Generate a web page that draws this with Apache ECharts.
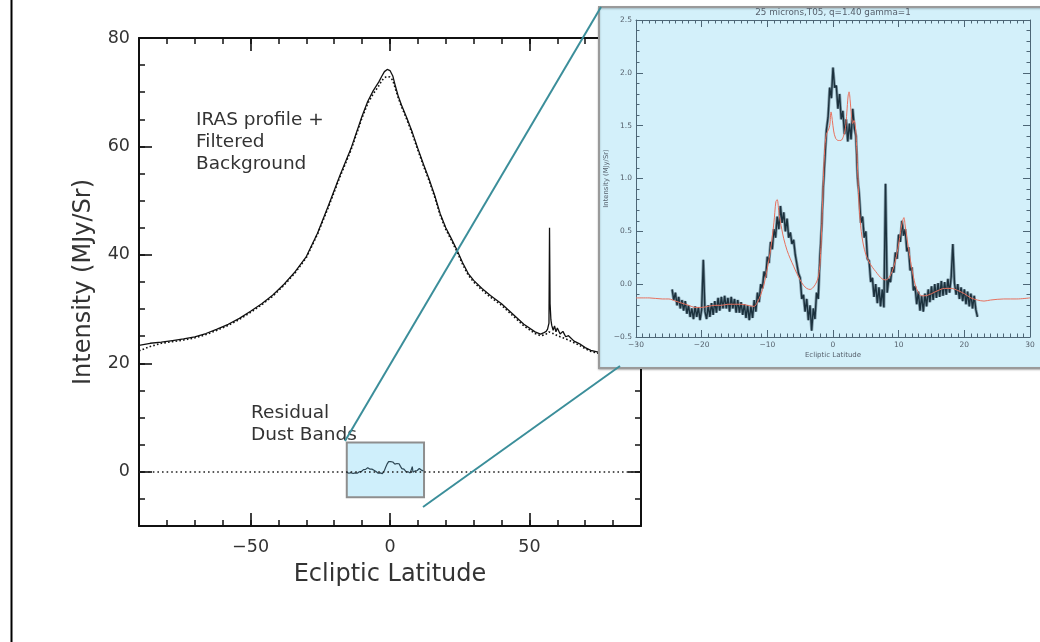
<!DOCTYPE html>
<html>
<head>
<meta charset="utf-8">
<title>IRAS 25 micron ecliptic latitude profile and residual dust bands</title>
<script src="https://cdn.jsdelivr.net/npm/echarts@6/dist/echarts.min.js"></script>
<style>
  html, body { margin: 0; padding: 0; background: #ffffff; }
  #chart { width: 1040px; height: 642px; }
</style>
</head>
<body>
<div id="chart"></div>
<script>
// ---------------- Full IRAS scan (MJy/Sr) ----------------
const profileLat = [-90, -86, -82, -78, -74, -70, -66, -62, -58, -54, -50, -46, -42, -38, -34, -30, -26, -22, -18, -14,
  -10, -8, -6, -4, -3, -2, -1, 0, 1, 2, 3, 4, 6, 8, 10, 12, 14, 16, 18, 20, 22, 24, 26, 28, 30, 33, 36, 40, 44, 48,
  52, 54, 55, 56, 56.5, 57, 57.2, 57.4, 57.7, 58, 58.5, 59, 59.5, 60, 61, 62, 63, 64, 66, 68, 70, 72, 75, 80, 85, 90];
const profileIRAS = [23.3, 23.7, 23.9, 24.2, 24.5, 24.9, 25.5, 26.3, 27.2, 28.3, 29.6, 31.0, 32.6, 34.6, 36.9, 39.7, 44.0, 49.2, 54.6, 59.6,
  65.6, 68.3, 70.3, 71.9, 72.9, 73.8, 74.2, 74.0, 73.0, 71.0, 69.2, 67.8, 65.3, 62.6, 59.6, 56.7, 54.0, 51.0, 47.6, 45.0, 43.0, 40.9, 38.6, 36.6, 35.3, 33.8, 32.5, 31.0, 29.1, 27.2,
  25.8, 25.4, 25.6, 25.9, 26.3, 27.4, 45.0, 31.0, 28.0, 27.0, 26.1, 26.9, 25.8, 26.5, 25.4, 25.9, 24.9, 25.1, 24.1, 23.6, 22.9, 22.4, 22.0, 21.6, 21.3, 21.0];
// Filtered background model (dotted)
const profileModel = [22.3, 23.1, 23.7, 24.0, 24.3, 24.7, 25.3, 26.1, 27.0, 28.1, 29.4, 30.8, 32.4, 34.4, 36.7, 39.5, 43.8, 48.9, 54.3, 59.3,
  65.3, 67.9, 69.7, 71.2, 72.1, 72.7, 72.9, 72.8, 72.2, 70.5, 68.9, 67.5, 65.0, 62.3, 59.3, 56.4, 53.7, 50.7, 47.3, 44.7, 42.7, 40.6, 38.3, 36.3, 35.0, 33.5, 32.2, 30.7, 28.8, 26.9,
  25.5, 25.1, 25.2, 25.4, 25.6, 25.8, 25.8, 25.7, 25.7, 25.6, 25.4, 25.4, 25.2, 25.1, 24.9, 24.7, 24.5, 24.3, 23.8, 23.3, 22.7, 22.2, 21.8, 21.4, 21.1, 20.8];

// ---------------- Residual dust bands (MJy/Sr), sampled every 0.25 deg from -24.5 ----------------
const residualStart = -24.5;
const residualStep = 0.25;
const residualValues = [
  -0.05, -0.15, -0.08, -0.20, -0.12, -0.23, -0.15, -0.25,
  -0.16, -0.28, -0.20, -0.31, -0.23, -0.33, -0.21, -0.31,
  -0.22, -0.34, -0.24, 0.23, -0.26, -0.33, -0.20, -0.31,
  -0.18, -0.29, -0.16, -0.27, -0.13, -0.25, -0.12, -0.23,
  -0.11, -0.23, -0.13, -0.26, -0.12, -0.23, -0.14, -0.27,
  -0.15, -0.27, -0.17, -0.29, -0.19, -0.32, -0.20, -0.34,
  -0.21, -0.32, -0.15, -0.26, -0.08, -0.17, 0.00, -0.04,
  0.12, 0.06, 0.26, 0.20, 0.40, 0.33, 0.52, 0.44,
  0.64, 0.52, 0.74, 0.58, 0.68, 0.50, 0.62, 0.44,
  0.49, 0.38, 0.42, 0.28, 0.27, 0.10, 0.06, -0.14,
  -0.10, -0.26, -0.14, -0.34, -0.20, -0.44, -0.23, -0.33,
  -0.08, -0.14, 0.24, 0.52, 0.90, 1.18, 1.46, 1.58,
  1.86, 1.76, 2.05, 1.86, 1.88, 1.66, 1.80, 1.56,
  1.64, 1.42, 1.56, 1.35, 1.52, 1.37, 1.66, 1.48,
  1.40, 1.00, 0.84, 0.58, 0.64, 0.44, 0.50, 0.24,
  0.22, 0.02, 0.06, -0.12, 0.00, -0.18, -0.03, -0.21,
  -0.05, -0.22, 0.95, -0.08, 0.05, 0.02, 0.16, 0.11,
  0.30, 0.24, 0.47, 0.40, 0.60, 0.46, 0.52, 0.31,
  0.35, 0.13, 0.16, -0.06, -0.02, -0.19, -0.07, -0.25,
  -0.11, -0.26, -0.09, -0.21, -0.05, -0.17, -0.02, -0.15,
  0.00, -0.13, 0.01, -0.12, 0.03, -0.11, 0.02, -0.10,
  0.05, -0.08, 0.07, 0.38, 0.01, -0.10, 0.00, -0.14,
  -0.03, -0.16, -0.05, -0.19, -0.07, -0.21, -0.09, -0.23,
  -0.11, -0.24, -0.31
];

// Dust band model (q=1.40, gamma=1)
const bandModelLat = [-30, -28, -26, -25, -24, -23, -22, -21, -20, -19, -18, -17, -16, -15, -14, -13, -12, -11.5, -11, -10.5,
  -10, -9.5, -9, -8.7, -8.5, -8.2, -7.8, -7.5, -7, -6.5, -6, -5.5, -5, -4.5, -4, -3.5, -3, -2.5, -2.2, -2,
  -1.8, -1.6, -1.4, -1.2, -1, -0.7, -0.5, -0.3, -0.1, 0.1, 0.4, 0.8, 1.2, 1.6, 1.9, 2.1, 2.3, 2.45, 2.6, 2.8,
  3.0, 3.2, 3.4, 3.6, 3.8, 4.0, 4.3, 4.6, 5, 5.5, 6, 6.5, 7, 7.5, 8, 8.5, 9, 9.5, 10, 10.3,
  10.6, 10.8, 11, 11.3, 11.6, 12, 12.5, 13, 13.5, 14, 15, 16, 17, 18, 19, 20, 21, 22, 23, 24, 26, 28, 30];
const bandModelVal = [-0.13, -0.13, -0.14, -0.14, -0.16, -0.18, -0.20, -0.22, -0.22, -0.21, -0.20, -0.20, -0.19, -0.19, -0.19, -0.20, -0.21, -0.17, -0.10, 0.00,
  0.15, 0.33, 0.58, 0.78, 0.80, 0.66, 0.52, 0.43, 0.32, 0.24, 0.17, 0.10, 0.04, -0.01, -0.04, -0.05, -0.03, 0.02, 0.08, 0.18,
  0.40, 0.75, 1.10, 1.33, 1.42, 1.46, 1.50, 1.63, 1.55, 1.45, 1.38, 1.36, 1.36, 1.40, 1.48, 1.62, 1.78, 1.82, 1.75, 1.60,
  1.52, 1.55, 1.50, 1.30, 1.00, 0.72, 0.50, 0.38, 0.28, 0.21, 0.16, 0.12, 0.08, 0.05, 0.04, 0.06, 0.12, 0.22, 0.38, 0.50,
  0.60, 0.63, 0.55, 0.42, 0.30, 0.15, 0.00, -0.08, -0.11, -0.11, -0.09, -0.06, -0.04, -0.04, -0.06, -0.09, -0.13, -0.15, -0.16, -0.15, -0.14, -0.14, -0.13];

// Region of the full scan enlarged in the panel: latitude and intensity range
const zoomLat = [-15.5, 12.2];
const zoomIntensity = [-4.7, 5.4];

// Tick labels
const mainLatTicks = [-50, 0, 50];
const mainIntensityTicks = [0, 20, 40, 60, 80];

// ---------------- build pairs ----------------
const zip = (xs, ys) => xs.map((x, i) => [x, ys[i]]);
const residualPairs = residualValues.map((v, i) => [residualStart + i * residualStep, v]);
const residualInWindow = residualPairs.filter(p => p[0] >= zoomLat[0] && p[0] <= zoomLat[1]);

const FONT = 'DejaVu Sans';
const minus = v => (v < 0 ? '\u2212' + Math.abs(v) : String(v));
const minus1 = v => (v < 0 ? '\u2212' : '') + Math.abs(v).toFixed(1);

const INK = '#111111';
const TXT = '#333333';
const SLATE = '#4d6676';
const SLATE_TXT = '#56606c';

function mainAxis(extra) {
  return Object.assign({
    type: 'value', gridIndex: 0,
    axisLine: { show: true, onZero: false, lineStyle: { color: INK, width: 2 } },
    axisTick: { show: true, inside: true, length: 6, lineStyle: { color: INK, width: 1.5 } },
    axisLabel: { show: false },
    splitLine: { show: false }
  }, extra);
}
function mainMajor(extra, ticks) {
  return Object.assign({
    type: 'value', gridIndex: 0,
    axisLine: { show: false, onZero: false },
    axisTick: { show: true, inside: true, length: 13, customValues: ticks, lineStyle: { color: INK, width: 1.6 } },
    axisLabel: { show: false },
    splitLine: { show: false }
  }, extra);
}
function insetAxis(extra) {
  return Object.assign({
    type: 'value', gridIndex: 1, zlevel: 1, z: 5,
    axisLine: { show: true, onZero: false, lineStyle: { color: SLATE, width: 1 } },
    axisTick: { show: true, inside: true, length: 7, lineStyle: { color: SLATE, width: 1 } },
    minorTick: { show: true, length: 3.5, lineStyle: { color: SLATE, width: 1 } },
    axisLabel: { show: false },
    splitLine: { show: false },
    minorSplitLine: { show: false }
  }, extra);
}

const chart = echarts.init(document.getElementById('chart'), null, { renderer: 'canvas' });

chart.setOption({
  animation: false,
  backgroundColor: '#ffffff',
  grid: [
    { left: 139, right: 399, top: 38, bottom: 116 },
    { left: 636, right: 10, top: 20, bottom: 305 }
  ],
  xAxis: [
    mainAxis({ position: 'bottom', min: -90, max: 90, interval: 10,
      axisLabel: { show: true, customValues: mainLatTicks, formatter: minus, margin: 12,
        fontFamily: FONT, fontSize: 17.5, color: TXT },
      name: 'Ecliptic Latitude', nameLocation: 'middle', nameGap: 37,
      nameTextStyle: { fontFamily: FONT, fontSize: 24, color: TXT } }),
    mainMajor({ position: 'bottom', min: -90, max: 90 }, mainLatTicks),
    mainAxis({ position: 'top', min: -90, max: 90, interval: 10 }),
    mainMajor({ position: 'top', min: -90, max: 90 }, mainLatTicks),
    insetAxis({ position: 'bottom', min: -30, max: 30, interval: 10,
      minorTick: { show: true, splitNumber: 10, length: 3.5, lineStyle: { color: SLATE, width: 1 } },
      axisLabel: { show: true, formatter: minus, margin: 4, fontFamily: FONT, fontSize: 7.5, color: SLATE_TXT },
      name: 'Ecliptic Latitude', nameLocation: 'middle', nameGap: 15,
      nameTextStyle: { fontFamily: FONT, fontSize: 7, color: SLATE_TXT } }),
    insetAxis({ position: 'top', min: -30, max: 30, interval: 10,
      minorTick: { show: true, splitNumber: 10, length: 3.5, lineStyle: { color: SLATE, width: 1 } } })
  ],
  yAxis: [
    mainAxis({ position: 'left', min: -10, max: 80, interval: 5,
      axisLabel: { show: true, customValues: mainIntensityTicks, formatter: minus, margin: 9,
        fontFamily: FONT, fontSize: 17.5, color: TXT },
      name: 'Intensity (MJy/Sr)', nameLocation: 'middle', nameGap: 43, nameRotate: 90,
      nameTextStyle: { fontFamily: FONT, fontSize: 24, color: TXT } }),
    mainMajor({ position: 'left', min: -10, max: 80 }, mainIntensityTicks),
    mainAxis({ position: 'right', min: -10, max: 80, interval: 5 }),
    mainMajor({ position: 'right', min: -10, max: 80 }, mainIntensityTicks),
    insetAxis({ position: 'left', min: -0.5, max: 2.5, interval: 0.5,
      minorTick: { show: true, splitNumber: 5, length: 3.5, lineStyle: { color: SLATE, width: 1 } },
      axisLabel: { show: true, formatter: minus1, margin: 4, fontFamily: FONT, fontSize: 7.5, color: SLATE_TXT },
      name: 'Intensity (MJy/Sr)', nameLocation: 'middle', nameGap: 24, nameRotate: 90,
      nameTextStyle: { fontFamily: FONT, fontSize: 6.8, color: SLATE_TXT } }),
    insetAxis({ position: 'right', min: -0.5, max: 2.5, interval: 0.5,
      minorTick: { show: true, splitNumber: 5, length: 3.5, lineStyle: { color: SLATE, width: 1 } } })
  ],
  series: [
    {
      name: 'IRAS profile', type: 'line', xAxisIndex: 0, yAxisIndex: 0, z: 2,
      data: zip(profileLat, profileIRAS), showSymbol: false, symbol: 'none',
      lineStyle: { color: INK, width: 1.3 },
      markLine: {
        silent: true, symbol: ['none', 'none'], label: { show: false },
        lineStyle: { color: '#222222', width: 1.6, type: [1.6, 3] },
        data: [{ yAxis: 0 }]
      }
    },
    {
      name: 'Filtered background', type: 'line', xAxisIndex: 0, yAxisIndex: 0, z: 2,
      data: zip(profileLat, profileModel), showSymbol: false, symbol: 'none',
      lineStyle: { color: INK, width: 1.6, type: [1.6, 2.2] }
    },
    {
      name: 'zoom window', type: 'custom', xAxisIndex: 0, yAxisIndex: 0, z: 3,
      encode: { x: [0, 1], y: [2, 3] },
      data: [[zoomLat[0], zoomLat[1], zoomIntensity[0], zoomIntensity[1]]],
      renderItem: (params, api) => {
        const a = api.coord([api.value(0), api.value(3)]);
        const b = api.coord([api.value(1), api.value(2)]);
        return {
          type: 'rect',
          shape: { x: a[0], y: a[1], width: b[0] - a[0], height: b[1] - a[1] },
          style: { fill: '#cfeffb', stroke: '#8e8e8e', lineWidth: 2 }
        };
      }
    },
    {
      name: 'Residual (full scale)', type: 'line', xAxisIndex: 0, yAxisIndex: 0, z: 4,
      data: residualInWindow, showSymbol: false, symbol: 'none',
      lineStyle: { color: '#2c4654', width: 1.2 }
    },
    {
      name: 'Residual dust bands (halo)', type: 'line', xAxisIndex: 4, yAxisIndex: 4, zlevel: 1, z: 6,
      data: residualPairs, showSymbol: false, symbol: 'none',
      lineStyle: { color: '#7f99a6', width: 3 }
    },
    {
      name: 'Residual dust bands', type: 'line', xAxisIndex: 4, yAxisIndex: 4, zlevel: 1, z: 7,
      data: residualPairs, showSymbol: false, symbol: 'none',
      lineStyle: { color: '#1b313d', width: 1.4 }
    },
    {
      name: 'Band model', type: 'line', xAxisIndex: 4, yAxisIndex: 4, zlevel: 1, z: 8,
      data: zip(bandModelLat, bandModelVal), showSymbol: false, symbol: 'none', smooth: 0.3,
      lineStyle: { color: '#e8715e', width: 1 }
    }
  ],
  graphic: [
    // page rule on the left
    { type: 'line', zlevel: 0, z: 10, shape: { x1: 11.5, y1: 0, x2: 11.5, y2: 642 },
      style: { stroke: '#000000', lineWidth: 2 } },
    // enlarged panel background
    { type: 'rect', zlevel: 1, z: 1, shape: { x: 599, y: 7, width: 445, height: 361 },
      style: { fill: '#d3f0fa', stroke: '#9a9a9a', lineWidth: 2,
        shadowBlur: 2, shadowOffsetY: 1, shadowColor: 'rgba(0,0,0,0.25)' } },
    { type: 'text', zlevel: 1, z: 6, style: { x: 833, y: 13, text: '25 microns,T05, q=1.40 gamma=1',
      fontFamily: FONT, fontSize: 8.8, fill: SLATE_TXT, align: 'center', verticalAlign: 'middle' } },
    // connectors from the zoom window to the panel
    { type: 'line', zlevel: 1, z: 10, shape: { x1: 345, y1: 441, x2: 601, y2: 7 },
      style: { stroke: '#3b8e9a', lineWidth: 2 } },
    { type: 'line', zlevel: 1, z: 10, shape: { x1: 423, y1: 507, x2: 620, y2: 366 },
      style: { stroke: '#3b8e9a', lineWidth: 2 } },
    // annotations
    { type: 'text', zlevel: 0, z: 10, style: { x: 196, y: 120, text: 'IRAS profile +',
      fontFamily: FONT, fontSize: 18.5, fill: TXT, verticalAlign: 'middle' } },
    { type: 'text', zlevel: 0, z: 10, style: { x: 196, y: 142, text: 'Filtered',
      fontFamily: FONT, fontSize: 18.5, fill: TXT, verticalAlign: 'middle' } },
    { type: 'text', zlevel: 0, z: 10, style: { x: 196, y: 164, text: 'Background',
      fontFamily: FONT, fontSize: 18.5, fill: TXT, verticalAlign: 'middle' } },
    { type: 'text', zlevel: 0, z: 10, style: { x: 251, y: 413, text: 'Residual',
      fontFamily: FONT, fontSize: 18.5, fill: TXT, verticalAlign: 'middle' } },
    { type: 'text', zlevel: 0, z: 10, style: { x: 251, y: 435, text: 'Dust Bands',
      fontFamily: FONT, fontSize: 18.5, fill: TXT, verticalAlign: 'middle' } }
  ]
});
</script>
</body>
</html>
